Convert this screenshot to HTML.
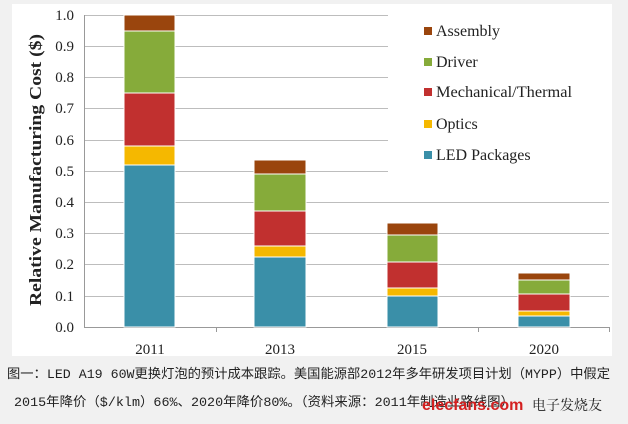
<!DOCTYPE html><html><head><style>body{margin:0;background:#f1f1f1;width:628px;height:424px;overflow:hidden;font-family:"Liberation Serif",serif}</style></head><body>
<svg width="628" height="424" style="position:absolute;left:0;top:0">
<rect x="12" y="4" width="600" height="352" fill="#fff"/>
<g stroke="#bdbdbd" stroke-width="1">
<line x1="84" x2="609" y1="15.5" y2="15.5"/>
<line x1="84" x2="609" y1="46.5" y2="46.5"/>
<line x1="84" x2="609" y1="77.5" y2="77.5"/>
<line x1="84" x2="609" y1="108.5" y2="108.5"/>
<line x1="84" x2="609" y1="140.5" y2="140.5"/>
<line x1="84" x2="609" y1="171.5" y2="171.5"/>
<line x1="84" x2="609" y1="202.5" y2="202.5"/>
<line x1="84" x2="609" y1="233.5" y2="233.5"/>
<line x1="84" x2="609" y1="264.5" y2="264.5"/>
<line x1="84" x2="609" y1="296.5" y2="296.5"/>
<line x1="84" x2="609" y1="327.5" y2="327.5" stroke="#999"/>
<line x1="84.5" x2="84.5" y1="15" y2="327" stroke="#999"/>
<line x1="216.5" x2="216.5" y1="327" y2="332" stroke="#999"/>
<line x1="478.5" x2="478.5" y1="327" y2="332" stroke="#999"/>
<line x1="609.5" x2="609.5" y1="327" y2="332" stroke="#999"/>
</g>
<rect x="388" y="6" width="222" height="174" fill="#fff"/>
<g stroke="#fff" stroke-width="1">
<rect x="124" y="165" width="51" height="162" fill="#3a8fa8"/>
<rect x="124" y="146" width="51" height="19" fill="#f5b800"/>
<rect x="124" y="93" width="51" height="53" fill="#c1302f"/>
<rect x="124" y="31" width="51" height="62" fill="#86ab3a"/>
<rect x="124" y="15" width="51" height="16" fill="#9a450d"/>
<rect x="254" y="257" width="52" height="70" fill="#3a8fa8"/>
<rect x="254" y="246" width="52" height="11" fill="#f5b800"/>
<rect x="254" y="211" width="52" height="35" fill="#c1302f"/>
<rect x="254" y="174" width="52" height="37" fill="#86ab3a"/>
<rect x="254" y="160" width="52" height="14" fill="#9a450d"/>
<rect x="387" y="296" width="51" height="31" fill="#3a8fa8"/>
<rect x="387" y="288" width="51" height="8" fill="#f5b800"/>
<rect x="387" y="262" width="51" height="26" fill="#c1302f"/>
<rect x="387" y="235" width="51" height="27" fill="#86ab3a"/>
<rect x="387" y="223" width="51" height="12" fill="#9a450d"/>
<rect x="518" y="316" width="52" height="11" fill="#3a8fa8"/>
<rect x="518" y="311" width="52" height="5" fill="#f5b800"/>
<rect x="518" y="294" width="52" height="17" fill="#c1302f"/>
<rect x="518" y="280" width="52" height="14" fill="#86ab3a"/>
<rect x="518" y="273" width="52" height="7" fill="#9a450d"/>
</g>
<g font-size="15" fill="#222" text-anchor="end">
<text x="74" y="20">1.0</text><text x="74" y="51">0.9</text><text x="74" y="82">0.8</text><text x="74" y="113">0.7</text><text x="74" y="145">0.6</text><text x="74" y="176">0.5</text><text x="74" y="207">0.4</text><text x="74" y="238">0.3</text><text x="74" y="269">0.2</text><text x="74" y="301">0.1</text><text x="74" y="332">0.0</text>
</g>
<g font-size="15" fill="#222" text-anchor="middle">
<text x="150" y="354">2011</text><text x="280" y="354">2013</text><text x="412" y="354">2015</text><text x="544" y="354">2020</text>
</g>
<text transform="translate(41,170) rotate(-90)" text-anchor="middle" font-size="17" font-weight="bold" fill="#222" textLength="272" lengthAdjust="spacingAndGlyphs">Relative Manufacturing Cost ($)</text>
<g font-size="16" fill="#222">
<rect x="424" y="27" width="8" height="8" fill="#9a450d"/><text x="436" y="36">Assembly</text>
<rect x="424" y="58" width="8" height="8" fill="#86ab3a"/><text x="436" y="67">Driver</text>
<rect x="424" y="88" width="8" height="8" fill="#c1302f"/><text x="436" y="97" textLength="136" lengthAdjust="spacingAndGlyphs">Mechanical/Thermal</text>
<rect x="424" y="120" width="8" height="8" fill="#f5b800"/><text x="436" y="129">Optics</text>
<rect x="424" y="151" width="8" height="8" fill="#3a8fa8"/><text x="436" y="160">LED Packages</text>
</g>
<g font-family="'Liberation Mono','Noto Sans CJK SC',monospace" font-size="13" fill="#222">
<text x="7" y="378" textLength="603" lengthAdjust="spacingAndGlyphs">图一：LED A19 60W更换灯泡的预计成本跟踪。美国能源部2012年多年研发项目计划（MYPP）中假定</text>
<text x="14" y="406" textLength="500" lengthAdjust="spacingAndGlyphs">2015年降价（$/klm）66%、2020年降价80%。（资料来源：2011年制造业路线图）</text>
</g>
<text x="422" y="410" font-family="'Liberation Sans',sans-serif" font-size="16" font-weight="bold" fill="#d42020">elecfans.com</text>
<text x="532" y="410" font-family="'Noto Serif CJK SC',serif" font-size="14" fill="#222">电子发烧友</text>
</svg>
</body></html>
